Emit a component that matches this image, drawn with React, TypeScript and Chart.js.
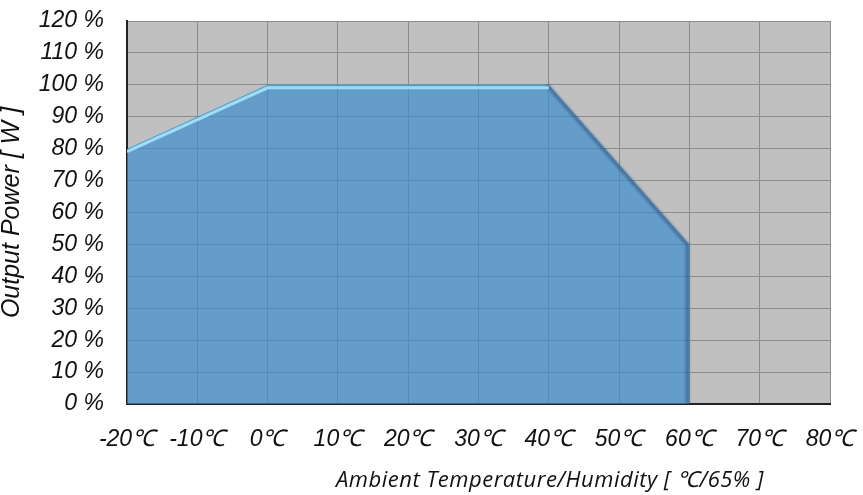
import React, { useEffect, useRef } from "react";
import { Chart, registerables } from "chart.js";

Chart.register(...registerables);

// ---- data ----
const temperatures = [-20, 0, 40, 60, 60];
const outputPower = [80, 100, 100, 50, 0];
const xTickValues = [-20, -10, 0, 10, 20, 30, 40, 50, 60, 70, 80];
const yTickValues = [0, 10, 20, 30, 40, 50, 60, 70, 80, 90, 100, 110, 120];
const xTitle = "Ambient Temperature/Humidity [ \u2103/65% ]";
const yTitle = "Output Power [ W ]";

const tickFont = { family: '"Liberation Sans", Arial, sans-serif', size: 23, style: "italic" as const };

export default function App() {
  const ref = useRef<HTMLCanvasElement>(null);

  useEffect(() => {
    if (!ref.current) return;
    const pts = temperatures.map((t, i) => ({ x: t, y: outputPower[i] }));

    const plotBg = {
      id: "plotBg",
      beforeDraw(chart: any) {
        const { ctx, chartArea: a } = chart;
        ctx.save();
        ctx.fillStyle = "#c0c0c0";
        ctx.fillRect(a.left, a.top, a.right - a.left, a.bottom - a.top);
        ctx.restore();
      },
    };

    const shift = {
      id: "shift",
      beforeDatasetDraw(chart: any, args: any) {
        const ds: any = chart.data.datasets[args.index];
        chart.ctx.save();
        if (ds.shift) chart.ctx.translate(ds.shift[0], ds.shift[1]);
        if (ds.blur) chart.ctx.filter = `blur(${ds.blur}px)`;
      },
      afterDatasetDraw(chart: any) {
        chart.ctx.restore();
      },
    };

    const xTitlePlugin = {
      id: "xTitlePlugin",
      afterDraw(chart: any) {
        const { ctx } = chart;
        ctx.save();
        ctx.font = 'italic 22px "Open Sans", sans-serif';
        try {
          (ctx as any).letterSpacing = "0.5px";
        } catch (e) {}
        ctx.fillStyle = "#111";
        ctx.textAlign = "center";
        ctx.textBaseline = "middle";
        ctx.fillText(xTitle, 550, 481);
        ctx.restore();
      },
    };

    const chart = new Chart(ref.current, {
      type: "line",
      data: {
        datasets: [
          {
            data: pts,
            fill: "origin",
            backgroundColor: "rgba(56,140,208,0.67)",
            borderWidth: 0,
            pointRadius: 0,
            tension: 0,
            order: 2,
          },
          {
            data: pts.slice(0, 3),
            fill: false,
            borderColor: "rgba(160,226,246,0.95)",
            borderWidth: 3,
            pointRadius: 0,
            shift: [0, 3],
            blur: 0.5,
            order: 0,
          } as any,
          {
            data: pts.slice(2),
            fill: false,
            borderColor: "rgba(30,55,90,0.4)",
            borderWidth: 4,
            pointRadius: 0,
            shift: [-2, 0],
            blur: 1.2,
            order: 1,
          } as any,
        ],
      },
      options: {
        animation: false,
        responsive: false,
        maintainAspectRatio: false,
        layout: { padding: { top: 21, right: 33, left: 0, bottom: 0 } },
        plugins: { legend: { display: false }, tooltip: { enabled: false } },
        scales: {
          x: {
            type: "linear",
            min: -20,
            max: 80,
            afterBuildTicks: (s: any) => {
              s.ticks = xTickValues.map((v) => ({ value: v }));
            },
            afterFit: (s: any) => {
              s.height = 91;
              s.paddingLeft = 0;
              s.paddingRight = 0;
            },
            ticks: {
              callback: (v: any) => `${v}\u2103`,
              font: tickFont,
              color: "#111",
              padding: 22,
              maxRotation: 0,
              autoSkip: false,
            },
            grid: { color: "#8c8c8c", lineWidth: 1, drawTicks: false },
            border: { color: "#222", width: 2 },
          },
          y: {
            type: "linear",
            min: 0,
            max: 120,
            afterBuildTicks: (s: any) => {
              s.ticks = yTickValues.map((v) => ({ value: v }));
            },
            afterFit: (s: any) => {
              s.width = 127;
              s.paddingTop = 0;
              s.paddingBottom = 0;
            },
            ticks: {
              callback: (v: any) => `${v} %`,
              font: tickFont,
              color: "#111",
              padding: 23,
              autoSkip: false,
            },
            grid: { color: "#8c8c8c", lineWidth: 1, drawTicks: false },
            border: { color: "#222", width: 2 },
            title: {
              display: true,
              text: yTitle,
              color: "#111",
              font: { family: '"Liberation Sans", Arial, sans-serif', size: 25, style: "italic", lineHeight: 1.1 },
              padding: { top: -2, bottom: 0 },
            },
          },
        },
      },
      plugins: [plotBg, shift, xTitlePlugin],
    });

    return () => chart.destroy();
  }, []);

  return (
    <div style={{ position: "fixed", left: 0, top: 0, width: 863, height: 495, background: "#fff" }}>
      <canvas ref={ref} width={863} height={495} />
    </div>
  );
}
